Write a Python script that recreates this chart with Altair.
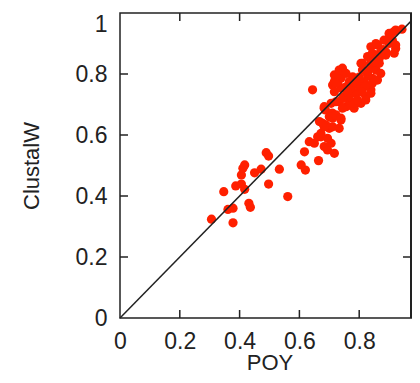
import altair as alt
import pandas as pd

# ---- data ----
poy = [
    0.306, 0.347, 0.361, 0.378, 0.378, 0.387, 0.406, 0.417, 0.406, 0.411,
    0.417, 0.431, 0.436, 0.450, 0.472, 0.489, 0.497, 0.497, 0.533, 0.561,
    0.606, 0.620, 0.617, 0.633, 0.650, 0.664, 0.661, 0.694, 0.683, 0.706,
    0.717, 0.672, 0.694,
    0.678, 0.687, 0.683, 0.711, 0.739, 0.733, 0.700, 0.689, 0.710, 0.756,
    0.767, 0.789, 0.672, 0.667, 0.700, 0.722, 0.711, 0.683, 0.739,
    0.644, 0.717, 0.744, 0.728, 0.717, 0.756, 0.739, 0.778, 0.806, 0.839,
    0.861, 0.850, 0.839, 0.900, 0.922, 0.943, 0.911, 0.883, 0.922, 0.889,
    0.867, 0.856, 0.844, 0.828, 0.817, 0.839, 0.822, 0.806, 0.783, 0.767,
    0.789, 0.800, 0.772, 0.750, 0.733, 0.706, 0.683, 0.744, 0.778, 0.828,
    0.739, 0.722, 0.711, 0.739, 0.767, 0.794, 0.822, 0.839, 0.844, 0.811,
    0.839, 0.744, 0.722, 0.917, 0.900, 0.922, 0.917, 0.889, 0.867, 0.844,
    0.856, 0.811, 0.872, 0.861, 0.733, 0.717, 0.756, 0.722, 0.767, 0.800,
    0.820, 0.790, 0.760, 0.810, 0.830, 0.850, 0.880, 0.900, 0.870,
]
clustalw = [
    0.324, 0.414, 0.356, 0.360, 0.312, 0.433, 0.439, 0.422, 0.469, 0.491,
    0.502, 0.376, 0.363, 0.476, 0.488, 0.542, 0.531, 0.439, 0.488, 0.398,
    0.502, 0.485, 0.545, 0.578, 0.573, 0.516, 0.594, 0.551, 0.562, 0.573,
    0.540, 0.594, 0.589,
    0.638, 0.682, 0.693, 0.655, 0.649, 0.622, 0.622, 0.633, 0.672, 0.693,
    0.698, 0.709, 0.605, 0.644, 0.660, 0.666, 0.627, 0.627, 0.655,
    0.748, 0.797, 0.819, 0.770, 0.742, 0.758, 0.786, 0.791, 0.835, 0.889,
    0.895, 0.862, 0.830, 0.933, 0.944, 0.947, 0.911, 0.911, 0.884, 0.873,
    0.851, 0.813, 0.786, 0.797, 0.775, 0.748, 0.726, 0.704, 0.688, 0.715,
    0.737, 0.758, 0.753, 0.726, 0.709, 0.704, 0.688, 0.688, 0.704, 0.857,
    0.813, 0.791, 0.764, 0.754, 0.726, 0.715, 0.715, 0.737, 0.770, 0.813,
    0.835, 0.720, 0.709, 0.939, 0.917, 0.895, 0.868, 0.862, 0.835, 0.868,
    0.900, 0.835, 0.802, 0.780, 0.813, 0.775, 0.802, 0.770, 0.775, 0.790,
    0.760, 0.770, 0.740, 0.740, 0.810, 0.840, 0.880, 0.900, 0.870,
]
diag_x = [0, 1]
diag_y = [0, 1]
tick_values = [0.2, 0.4, 0.6, 0.8]
axis_values = [0, 0.2, 0.4, 0.6, 0.8, 1]

# ---- styling ----
W, H = 299, 305          # plot area; x = 1 falls just past the visible edge
EDGE = 291               # visible right frame (the page edge cuts the rest)
TICK = 8
FONT = "Liberation Sans"
RED = "#ff2000"
INK = "#222222"

pts = pd.DataFrame({"poy": poy, "clustalw": clustalw})
diag = pd.DataFrame({"poy": diag_x, "clustalw": diag_y})
xt = pd.DataFrame({"poy": tick_values})
yt = pd.DataFrame({"clustalw": tick_values})

xscale = alt.Scale(domain=[0, 1], nice=False, zero=False)
yscale = alt.Scale(domain=[0, 1], nice=False, zero=False)

common_axis = dict(
    values=axis_values, format=".1~f", ticks=False, tickSize=0, domain=False,
    grid=False, labelFont=FONT, labelFontSize=23, labelColor=INK,
    labelFlush=False, labelOverlap=False, titleFont=FONT, titleFontSize=22,
    titleFontWeight="normal", titleColor=INK,
)
xaxis = alt.Axis(
    labelPadding=12, titleBaseline="alphabetic", titleY=51,
    labelExpr="datum.value == 1 ? '' : datum.label",
    **common_axis,
)
yaxis = alt.Axis(
    labelPadding=13, titlePadding=32,
    labelBaseline=alt.condition("datum.value == 1", alt.value("top"), alt.value("middle")),
    **common_axis,
)

X = alt.X("poy:Q", scale=xscale, axis=xaxis, title="POY")
Y = alt.Y("clustalw:Q", scale=yscale, axis=yaxis, title="ClustalW")

points = alt.Chart(pts).mark_circle(size=85, color=RED, opacity=1).encode(x=X, y=Y)
line = alt.Chart(diag).mark_line(color=INK, strokeWidth=1.5).encode(x=X, y=Y)

tick_style = dict(color=INK, strokeWidth=1.5)
bottom_ticks = alt.Chart(xt).mark_rule(**tick_style).encode(
    x=X, y=alt.value(H), y2=alt.value(H - TICK))
top_ticks = alt.Chart(xt).mark_rule(**tick_style).encode(
    x=X, y=alt.value(0), y2=alt.value(TICK))
left_ticks = alt.Chart(yt).mark_rule(**tick_style).encode(
    y=Y, x=alt.value(0), x2=alt.value(TICK))
right_ticks = alt.Chart(yt).mark_rule(**tick_style).encode(
    y=Y, x=alt.value(EDGE), x2=alt.value(EDGE - TICK))
right_frame = alt.Chart(xt).mark_rule(**tick_style).encode(
    x=alt.value(EDGE), y=alt.value(0), y2=alt.value(H))

chart = (
    alt.layer(points, line, bottom_ticks, top_ticks, left_ticks,
              right_ticks, right_frame)
    .properties(
        width=W, height=H, autosize="none",
        padding={"left": 112, "top": 5, "right": -7, "bottom": 57},
        background="white",
    )
    .configure_view(stroke=INK, strokeWidth=1.5)
)

chart.save("out.html", embed_options={"renderer": "svg", "actions": False})
